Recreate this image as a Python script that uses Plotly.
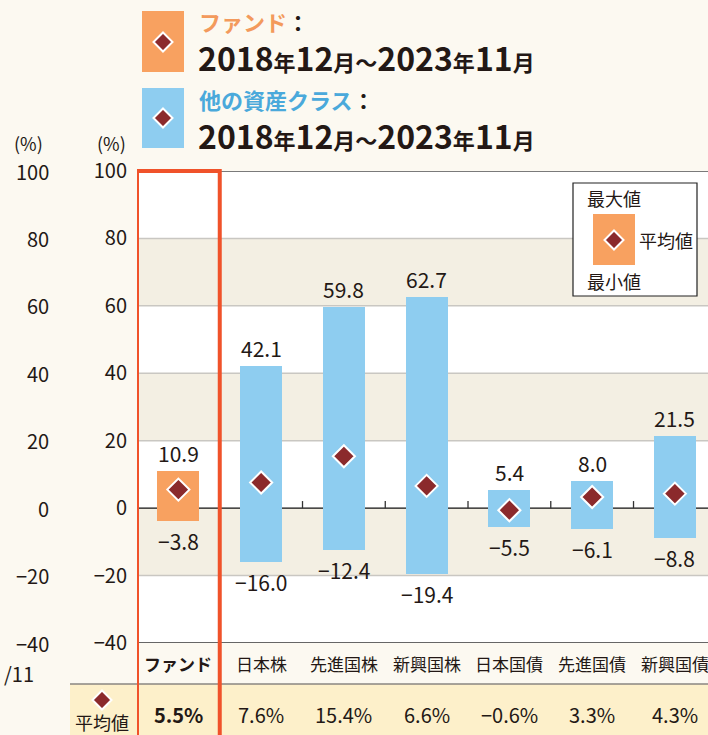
import plotly.graph_objects as go

categories = ["ファンド", "日本株", "先進国株", "新興国株", "日本国債", "先進国債", "新興国債"]
max_vals = [10.9, 42.1, 59.8, 62.7, 5.4, 8.0, 21.5]
min_vals = [-3.8, -16.0, -12.4, -19.4, -5.5, -6.1, -8.8]
avg_vals = [5.5, 7.6, 15.4, 6.6, -0.6, 3.3, 4.3]
y_ticks = [100, 80, 60, 40, 20, 0, -20, -40]

W, H = 708, 735
L, R, T, B = 137, 0, 171, 92
PW, PH = W - L - R, H - T - B

def px(x):
    return (x - L) / PW

def py(y):
    return (H - B - y) / PH

FONT = "Noto Sans CJK JP, Noto Sans, sans-serif"
BLACK = "#231815"
ORANGE = "#f8a160"
BLUE = "#8ecdf0"
DIAMOND = "#8b2a2c"
RED = "#f0522a"
BAND = "#f3efe3"
PAPER = "#fcf9f1"
YELLOW = "#fdf0ca"

xs = list(range(len(categories)))
bar_colors = [ORANGE] + [BLUE] * (len(categories) - 1)

fig = go.Figure()
fig.add_trace(go.Bar(
    x=xs, y=[mx - mn for mx, mn in zip(max_vals, min_vals)], base=min_vals,
    marker=dict(color=bar_colors, line=dict(width=0)), width=0.51,
    hoverinfo="skip"))
fig.add_trace(go.Scatter(
    x=xs, y=avg_vals, mode="markers",
    marker=dict(symbol="diamond", size=17, color=DIAMOND, line=dict(color="white", width=2))))

shapes = []
for lo, hi in [(60, 80), (20, 40), (-20, 0)]:
    shapes.append(dict(type="rect", xref="paper", yref="y", x0=0, x1=1, y0=lo, y1=hi,
                       fillcolor=BAND, line=dict(width=0), layer="below"))
for v in [80, 60, 40, 20, -20]:
    shapes.append(dict(type="line", xref="paper", yref="y", x0=0, x1=1, y0=v, y1=v,
                       line=dict(color="#c9c7c2", width=1.5), layer="below"))
shapes.append(dict(type="line", xref="paper", yref="y", x0=0, x1=1, y0=100, y1=100,
                   line=dict(color="#7a7a7a", width=2)))
shapes.append(dict(type="line", xref="paper", yref="y", x0=0, x1=1, y0=-40, y1=-40,
                   line=dict(color="#333333", width=1.5)))
shapes.append(dict(type="line", xref="paper", yref="y", x0=0, x1=1, y0=0, y1=0,
                   line=dict(color="#111111", width=1.3), layer="below"))
for i in range(1, len(categories) - 1):
    shapes.append(dict(type="line", xref="x", yref="y", x0=i + 0.5, x1=i + 0.5, y0=0, y1=2.1,
                       line=dict(color="#333333", width=1.3), layer="below"))
shapes.append(dict(type="rect", xref="paper", yref="paper", x0=px(70), x1=1.01, y0=py(740), y1=py(684),
                   fillcolor=YELLOW, line=dict(width=0)))
shapes.append(dict(type="line", xref="paper", yref="paper", x0=px(70), x1=1.01, y0=py(684), y1=py(684),
                   line=dict(color="#8a8680", width=1.5)))
shapes.append(dict(type="rect", xref="x", yref="paper", x0=-0.5, x1=0.5, y0=py(745), y1=py(171),
                   line=dict(color=RED, width=4)))
shapes.append(dict(type="rect", xref="paper", yref="paper", x0=px(142), x1=px(184), y0=py(72), y1=py(11),
                   fillcolor=ORANGE, line=dict(width=0)))
shapes.append(dict(type="rect", xref="paper", yref="paper", x0=px(142), x1=px(184), y0=py(148), y1=py(88),
                   fillcolor=BLUE, line=dict(width=0)))
shapes.append(dict(type="rect", xref="paper", yref="paper", x0=px(573), x1=px(697), y0=py(296), y1=py(183),
                   fillcolor="white", line=dict(color="#222222", width=1.2)))
shapes.append(dict(type="rect", xref="paper", yref="paper", x0=px(593), x1=px(635), y0=py(265), y1=py(214),
                   fillcolor=ORANGE, line=dict(width=0)))

def diamond(cx, cy, r=9.5):
    x0, x1, x2 = px(cx - r), px(cx), px(cx + r)
    y0, y1, y2 = py(cy - r), py(cy), py(cy + r)
    return dict(type="path", xref="paper", yref="paper",
                path=f"M {x1} {y0} L {x2} {y1} L {x1} {y2} L {x0} {y1} Z",
                fillcolor=DIAMOND, line=dict(color="white", width=2))

for cx, cy in [(163, 42), (163, 118), (614, 240), (102, 700)]:
    shapes.append(diamond(cx, cy))

ann = []
def text(x, y, s, size=18, color=BLACK, xanchor="center"):
    ann.append(dict(xref="paper", yref="paper", x=px(x), y=py(y), text=s, showarrow=False,
                    xanchor=xanchor, yanchor="middle", font=dict(family=FONT, size=size, color=color)))

d = "<span style='font-size:32px'>{}</span>"
date = "<b>" + d.format("2018") + "年" + d.format("12") + "月～" + d.format("2023") + "年" + d.format("11") + "月</b>"
text(197, 21, "<b><span style='color:#f39a5c'>ファンド</span>：</b>", size=22, xanchor="left")
text(196, 57, date, size=22, xanchor="left")
text(197, 99, "<b><span style='color:#4aa9db'>他の資産クラス</span>：</b>", size=22, xanchor="left")
text(196, 135, date, size=22, xanchor="left")

text(28, 143, "(%)", size=18)
text(111, 143, "(%)", size=18)
for v in y_ticks:
    lab = f"−{abs(v)}" if v < 0 else str(v)
    ann.append(dict(xref="paper", yref="y", x=px(51), y=v, text=lab, showarrow=False, xanchor="right",
                    yanchor="middle", font=dict(family=FONT, size=20, color=BLACK)))
text(36, 673, "/11", size=20, xanchor="right")

text(614, 198, "最大値", size=18)
text(614, 281, "最小値", size=18)
text(666, 240, "平均値", size=18)

text(102, 722, "平均値", size=18)

for i in xs:
    ann.append(dict(xref="x", yref="y", x=i, y=max_vals[i], text=f"{max_vals[i]:.1f}", showarrow=False,
                    xanchor="center", yanchor="bottom", yshift=1,
                    font=dict(family=FONT, size=21, color=BLACK)))
    ann.append(dict(xref="x", yref="y", x=i, y=min_vals[i], text=f"−{abs(min_vals[i]):.1f}", showarrow=False,
                    xanchor="center", yanchor="top", yshift=-3,
                    font=dict(family=FONT, size=21, color=BLACK)))
    cat = f"<b>{categories[i]}</b>" if i == 0 else categories[i]
    ann.append(dict(xref="x", yref="paper", x=i, y=py(663), text=cat, showarrow=False,
                    xanchor="center", yanchor="middle", font=dict(family=FONT, size=17, color=BLACK)))
    v = avg_vals[i]
    lab = f"−{abs(v):.1f}%" if v < 0 else f"{v:.1f}%"
    if i == 0:
        lab = f"<b>{lab}</b>"
    ann.append(dict(xref="x", yref="paper", x=i, y=py(714), text=lab, showarrow=False,
                    xanchor="center", yanchor="middle", font=dict(family=FONT, size=20, color=BLACK)))

fig.update_layout(
    width=W, height=H, margin=dict(l=L, r=R, t=T, b=B),
    paper_bgcolor=PAPER, plot_bgcolor="white", showlegend=False,
    bargap=0, shapes=shapes, annotations=ann,
    font=dict(family=FONT, color=BLACK),
    xaxis=dict(range=[-0.5, 6.4], tickvals=xs, showticklabels=False, showgrid=False, zeroline=False,
               showline=False, ticks="", fixedrange=True),
    yaxis=dict(range=[-40, 100], tickvals=y_ticks,
               ticktext=[f"−{abs(v)}" if v < 0 else str(v) for v in y_ticks],
               showgrid=False, zeroline=False, showline=False, ticks="",
               tickfont=dict(family=FONT, size=20, color=BLACK), ticklabelstandoff=9,
               fixedrange=True),
)

fig.write_html("out.html", config={"displayModeBar": False},
               post_script="document.body.style.margin='0';document.body.style.overflow='hidden';")
